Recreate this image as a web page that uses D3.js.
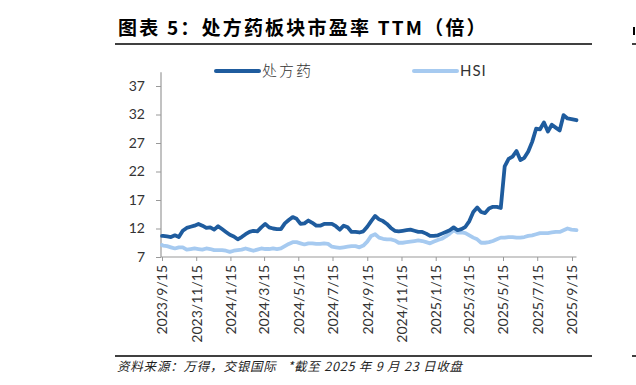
<!DOCTYPE html>
<html>
<head>
<meta charset="utf-8">
<script src="https://cdn.jsdelivr.net/npm/d3@7"></script>
<style>
  html, body { margin: 0; padding: 0; background: #fff; }
  svg { display: block; }
</style>
</head>
<body>
<script>
// weekly readings, 2023/9/15 .. 2025/9/19, plus the last close 2025/9/23
let start = new Date(2023, 8, 15)
let dates = d3.timeWeek.every(1).range(start, new Date(2025, 8, 20))
dates = [start, ...dates.filter(d => d > start), new Date(2025, 8, 23)]

let rx = [10.7, 10.7, 10.6, 10.5, 10.8, 10.5, 11.6, 12.1, 12.3, 12.5,
  12.8, 12.5, 12.1, 12.2, 11.8, 12.4, 11.9, 11.4, 10.9, 10.6,
  10.1, 10.5, 11.0, 11.4, 11.6, 11.5, 12.2, 12.8, 12.2, 12.0,
  11.9, 11.9, 12.9, 13.5, 14.0, 13.7, 12.8, 12.9, 13.4, 13.0,
  12.5, 12.5, 12.8, 12.8, 12.8, 12.4, 11.8, 12.5, 12.2, 11.4,
  11.4, 11.3, 11.5, 12.3, 13.3, 14.2, 13.6, 13.3, 12.8, 12.1,
  11.6, 11.5, 11.6, 11.7, 11.8, 11.6, 11.4, 11.4, 11.1, 10.7,
  10.7, 10.8, 11.1, 11.4, 11.7, 12.2, 11.7, 11.9, 12.3, 13.3,
  14.9, 15.7, 14.9, 14.7, 15.5, 15.8, 15.8, 15.6, 22.9, 24.2,
  24.6, 25.6, 24.0, 24.4, 25.5, 27.2, 29.5, 29.4, 30.6, 29.0,
  30.2, 29.7, 29.2, 31.9, 31.3, 31.2, 31.0]

let hsi = [9.1, 9.0, 8.9, 8.7, 8.5, 8.7, 8.7, 8.3, 8.4, 8.5,
  8.4, 8.3, 8.5, 8.4, 8.2, 8.2, 8.2, 8.1, 7.9, 8.1,
  8.2, 8.3, 8.5, 8.3, 8.1, 8.3, 8.5, 8.4, 8.4, 8.5,
  8.4, 8.5, 8.9, 9.3, 9.6, 9.6, 9.4, 9.2, 9.4, 9.4,
  9.3, 9.3, 9.4, 9.3, 8.8, 8.7, 8.6, 8.7, 8.8, 8.9,
  8.9, 8.7, 9.0, 9.7, 10.7, 11.0, 10.4, 10.2, 10.1, 10.1,
  9.9, 9.5, 9.5, 9.6, 9.7, 9.8, 9.9, 9.8, 9.6, 9.4,
  9.7, 10.0, 10.2, 10.6, 11.1, 11.7, 11.3, 11.3, 11.2, 10.8,
  10.4, 10.1, 9.5, 9.5, 9.6, 9.8, 10.1, 10.4, 10.4, 10.5,
  10.5, 10.4, 10.4, 10.5, 10.7, 10.8, 11.0, 11.2, 11.2, 11.2,
  11.3, 11.4, 11.4, 11.7, 12.0, 11.8, 11.7]

let yTicks = [7, 12, 17, 22, 27, 32, 37]
let xTicks = ['2023/9/15', '2023/11/15', '2024/1/15', '2024/3/15', '2024/5/15',
  '2024/7/15', '2024/9/15', '2024/11/15', '2025/1/15', '2025/3/15',
  '2025/5/15', '2025/7/15', '2025/9/15']

let series = [
  { name: '处方药', values: rx, color: '#1f5c9e' },
  { name: 'HSI', values: hsi, color: '#a6caf0' }
]

let width = 636
let height = 385
let parse = d3.timeParse('%Y/%m/%d')

let x = d3.scaleTime()
    .domain([parse('2023/9/15'), parse('2025/9/15')])
    .range([162, 572])

let y = d3.scaleLinear()
    .domain([7, 37])
    .range([257, 86])

const svg = d3.select('body').append('svg')
    .attr('width', width)
    .attr('height', height)

// title + rules
svg.append('text')
    .attr('x', 118)
    .attr('y', 35)
    .style('font-family', '"Noto Sans CJK SC"')
    .style('font-weight', 700)
    .style('font-size', '19px')
    .style('letter-spacing', '2.2px')
    .attr('fill', '#000')
    .text('图表 5：处方药板块市盈率 TTM（倍）')

// edge of the next panel
svg.append('line')
    .attr('x1', 634).attr('x2', 634)
    .attr('y1', 27).attr('y2', 35)
    .attr('stroke', '#000').attr('stroke-width', 2)

for (let yy of [44, 356]) {
  svg.append('line')
      .attr('x1', 115).attr('x2', 592)
      .attr('y1', yy).attr('y2', yy)
      .attr('stroke', '#000').attr('stroke-width', 1.5)
  svg.append('line')
      .attr('x1', 632).attr('x2', 636)
      .attr('y1', yy).attr('y2', yy)
      .attr('stroke', '#000').attr('stroke-width', 1.5)
}

svg.append('text')
    .attr('x', 117)
    .attr('y', 371)
    .style('font-family', '"Noto Sans CJK SC"')
    .style('font-size', '12.5px')
    .style('font-style', 'italic')
    .style('letter-spacing', '0.8px')
    .style('white-space', 'pre')
    .attr('fill', '#222')
    .text('资料来源：万得，交银国际   *截至 2025 年 9 月 23 日收盘')

// legend
let legend = [{ s: series[0], x: 216 }, { s: series[1], x: 414 }]
for (let l of legend) {
  svg.append('line')
      .attr('x1', l.x).attr('x2', l.x + 43)
      .attr('y1', 71).attr('y2', 71)
      .attr('stroke', l.s.color)
      .attr('stroke-width', 4)
      .attr('stroke-linecap', 'round')
  svg.append('text')
      .attr('x', l.x + 46)
      .attr('y', 71)
      .attr('dy', '0.35em')
      .style('font-family', l.s.name === 'HSI' ? 'Lato' : '"Noto Sans CJK SC"')
      .style('font-size', '15px')
      .style('font-weight', l.s.name === 'HSI' ? 400 : 300)
      .style('letter-spacing', l.s.name === 'HSI' ? '1px' : '2px')
      .attr('fill', '#333')
      .text(l.s.name)
}

// axes
let yAxis = g => g
    .attr('transform', 'translate(161,0)')
    .call(d3.axisLeft(y).tickValues(yTicks).tickSize(5).tickPadding(11))
    .call(g => g.select('.domain').remove())
    .call(g => g.selectAll('.tick line').attr('stroke', '#999'))
    .call(g => g.selectAll('text')
        .style('font-family', 'Lato')
        .style('font-size', '14px')
        .attr('fill', '#333'))

let xAxis = g => g
    .attr('transform', 'translate(0,257)')
    .call(d3.axisBottom(x).tickValues(xTicks.map(parse)).tickSize(4).tickFormat(d3.timeFormat('%Y/%-m/%-d')))
    .call(g => g.select('.domain').remove())
    .call(g => g.selectAll('.tick line').attr('stroke', '#999'))
    .call(g => g.selectAll('text')
        .style('font-family', 'Lato')
        .style('font-size', '14px')
        .attr('fill', '#333')
        .style('text-anchor', 'end')
        .attr('x', -8)
        .attr('y', 0)
        .attr('dy', '0.35em')
        .attr('transform', 'rotate(-90)'))

svg.append('g').call(yAxis)
svg.append('g').call(xAxis)

svg.append('line')
    .attr('x1', 161).attr('x2', 161)
    .attr('y1', y(39.4)).attr('y2', 257)
    .attr('stroke', '#999').attr('stroke-width', 1.2)
svg.append('line')
    .attr('x1', 161).attr('x2', x(dates[dates.length - 1]))
    .attr('y1', 257).attr('y2', 257)
    .attr('stroke', '#999').attr('stroke-width', 1.2)

// lines
let line = d3.line()
    .x((d, i) => x(dates[i]))
    .y(d => y(d))

svg.append('g')
  .selectAll('path')
  .data(series.slice().reverse())
  .join('path')
    .attr('d', d => line(d.values))
    .attr('fill', 'none')
    .attr('stroke', d => d.color)
    .attr('stroke-width', 3.8)
    .attr('stroke-linejoin', 'round')
    .attr('stroke-linecap', 'round')
</script>
</body>
</html>
